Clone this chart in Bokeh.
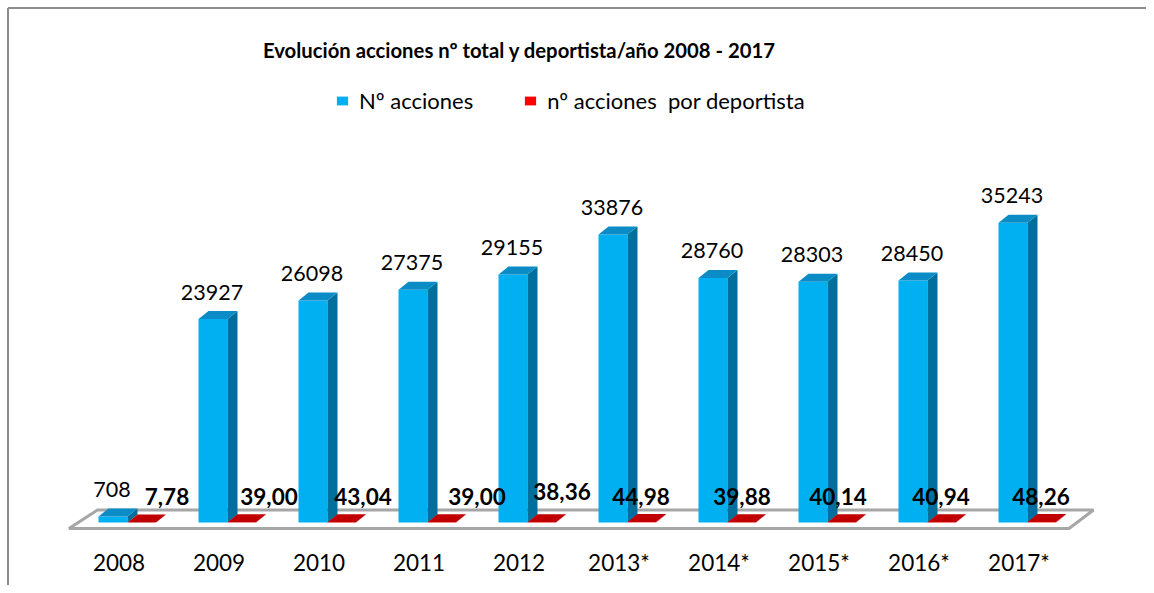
from bokeh.plotting import figure
from bokeh.models import Range1d, Legend, LegendItem, ColumnDataSource
from bokeh.core.properties import value
from bokeh.embed import file_html
from bokeh.resources import INLINE

# ---------------- data ----------------
years = ["2008", "2009", "2010", "2011", "2012", "2013*", "2014*", "2015*", "2016*", "2017*"]
acciones = [708, 23927, 26098, 27375, 29155, 33876, 28760, 28303, 28450, 35243]
por_deportista = [7.78, 39.00, 43.04, 39.00, 38.36, 44.98, 39.88, 40.14, 40.94, 48.26]
title_text = "Evolución acciones nº total y deportista/año 2008 - 2017"
legend_labels = ["Nº acciones", "nº acciones  por deportista"]

# ---------------- layout / style ----------------
W, H = 1146, 585
PX_PER_CAT = 100.0      # pixels per category
X0 = 118.5              # page px of first category centre
Y0 = 522.0              # page px of value 0
UPP = 117.6             # value units per pixel
TXT = -7                # text baseline compensation (px)


def cx(px):  # horizontal pixel distance -> category units
    return px / PX_PER_CAT


def vy(px):  # vertical pixel distance -> value units
    return px * UPP


def page_x(px):
    return (px - X0) / PX_PER_CAT


def page_y(py):
    return (Y0 - py) * UPP


x_start, x_end = page_x(0), page_x(W)
y_start, y_end = page_y(H), page_y(0)

FONT = value("Lato")
BLUE_FRONT, BLUE_SIDE, BLUE_TOP = "#00b0f0", "#006f9b", "#0b8cc6"
RED_FRONT, RED_TOP = "#ff0000", "#c00000"

n = len(years)
xs = list(range(n))
ddx, ddy = cx(10), vy(8)

p = figure(width=W, height=H, x_range=Range1d(x_start, x_end), y_range=Range1d(y_start, y_end),
           x_axis_type=None, y_axis_type=None, tools="", toolbar_location=None,
           output_backend="svg", min_border=0, outline_line_color=None,
           background_fill_color="white", border_fill_color="white")

# chart area border (left & top edges visible)
p.segment(x0=[page_x(7.5), page_x(7.5)], y0=[page_y(7.5), page_y(7.5)],
          x1=[page_x(7.5), page_x(W + 20)], y1=[page_y(H + 20), page_y(7.5)],
          line_color="#8c8c8c", line_width=2)

# floor
fl_front, fl_back = vy(-6), vy(12.5)
p.patch([-0.5, n - 0.5, n - 0.5 + cx(24.5), -0.5 + cx(28.5)],
        [fl_front, fl_front, fl_back, fl_back],
        fill_color="white", line_color="#a6a6a6", line_width=3)


def bar3d(lefts, rights, vals, front, side, top):
    fr = p.quad(left=lefts, right=rights, bottom=[0] * len(vals), top=vals,
                fill_color=front, line_color=None)
    sx, sy, tx, ty = [], [], [], []
    for l, r, v in zip(lefts, rights, vals):
        sx.append([r, r, r + ddx, r + ddx])
        sy.append([0, v, v + ddy, ddy])
        tx.append([l, r, r + ddx, l + ddx])
        ty.append([v, v, v + ddy, v + ddy])
    p.patches(sx, sy, fill_color=side, line_color=None)
    p.patches(tx, ty, fill_color=top, line_color=None)
    return fr


b_left = [i + cx(-20.5) for i in xs]
b_right = [i + cx(8.5) for i in xs]
r_left = b_right
r_right = [i + cx(37) for i in xs]

blue = bar3d(b_left, b_right, acciones, BLUE_FRONT, BLUE_SIDE, BLUE_TOP)
red = bar3d(r_left, r_right, por_deportista, RED_FRONT, RED_TOP, RED_TOP)

# value labels
p.text(x=[i + cx(-7) for i in xs], y=acciones, text=[str(v) for v in acciones],
       text_font=FONT, text_font_size="21.5px", text_color="black",
       text_align="center", text_baseline="alphabetic", y_offset=-20 + TXT)

red_nudge_x = [25, 27, 21, 35, 20, -1, 0, -4, -1, -1]
red_nudge_y = [-19, -19, -19, -19, -24, -19, -19, -19, -19, -19]
red_src = ColumnDataSource(dict(
    x=[i + cx(23 + d) for i, d in zip(xs, red_nudge_x)],
    y=[0] * n,
    t=[f"{v:.2f}".replace(".", ",") for v in por_deportista],
    yo=[d + TXT for d in red_nudge_y]))
p.text(x="x", y="y", text="t", y_offset="yo", source=red_src,
       text_font=FONT, text_font_size="22.5px", text_font_style="bold", text_color="black",
       text_align="center", text_baseline="alphabetic")

# category labels
p.text(x=xs, y=[0] * n, text=years, text_font=FONT, text_font_size="22.5px", text_color="black",
       text_align="center", text_baseline="alphabetic", y_offset=47 + TXT)

# title
p.text(x=[page_x(519)], y=[page_y(56)], text=[title_text],
       text_font=FONT, text_font_size="20.3px", text_font_style="bold", text_color="black",
       text_align="center", text_baseline="alphabetic", y_offset=TXT)

# legend
legend = Legend(items=[LegendItem(label=legend_labels[0], renderers=[blue]),
                       LegendItem(label=legend_labels[1], renderers=[red])],
                orientation="horizontal", location=(335, 471),
                border_line_color=None, background_fill_alpha=0,
                glyph_width=14, glyph_height=11, label_standoff=10, spacing=50,
                padding=0, margin=0, label_text_font="Lato", label_text_font_size="22px",
                label_text_color="black")
p.add_layout(legend)

open("out.html", "w").write(file_html(p, INLINE))
